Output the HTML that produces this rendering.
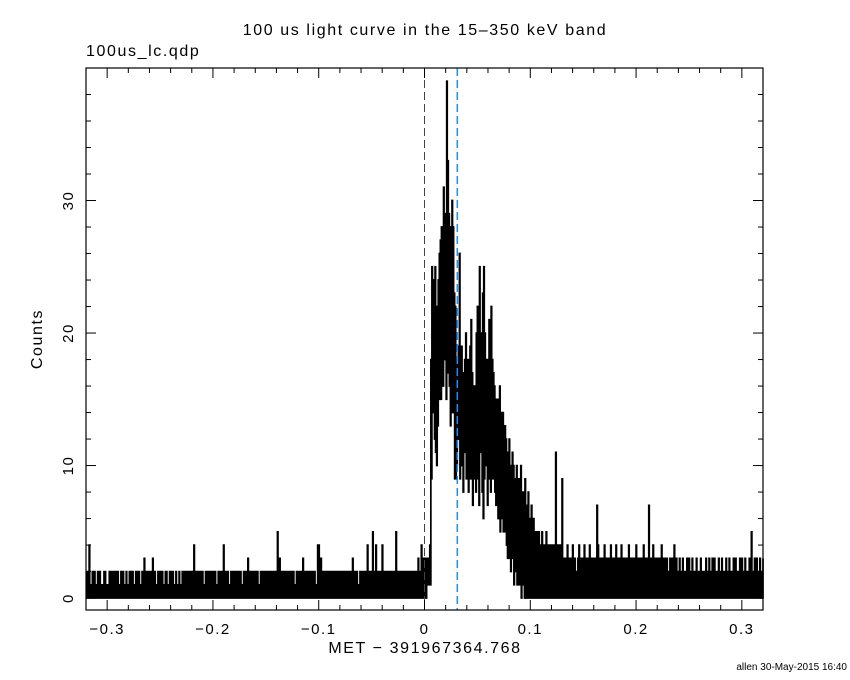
<!DOCTYPE html>
<html><head><meta charset="utf-8"><style>
body{margin:0;background:#fff;}
svg{display:block;font-family:"Liberation Sans",sans-serif;}
</style></head><body>
<svg id="c" width="850" height="680"></svg>
<script>
// ---- data (1 ms bins, t from -0.320) ----
const xTicks = [-0.3,-0.2,-0.1,0,0.1,0.2,0.3];
const xTickLabels = ["\u22120.3","\u22120.2","\u22120.1","0","0.1","0.2","0.3"];
const yTicks = [0,10,20,30];
const yTickLabels = ["0","10","20","30"];
const preHi = "1214112121121211122111212212122112121121122121121221121312121213121121212112211212211211211212121212214121212121121212121221121221412121121221212121121213121221212112212121221212121513122121212221211221212312212121212114413212122122121212121212122121213121211212121242121512421221412121212121251212122121212121212132 24".replace(/ /g,"");
const burstHi = [2,3,2,3,2,3,3,4, 18,25,24,23,25,22,21,24, 26,27,28,27,31,28,29,39,33, 29,28,26,30,28, 23,22,18,17, 19,26,18,19,17,15,18,20,16,18,17,19,21,17,16,15, 16,20,22,19,25,20,18,23,25,20,17,18,16,21,20,22,18,17, 16,15,14,15,13,16,14,12,14,13, 13,12,10,11,12,9,10,11,10,8,9,10,9, 9,8,10,7,8,6,9,7,6,8,5,6,7,5,6, 5,4,5,4,5,4,3,5,4,3,4,5,3,4,3,4,4,3,4,3,11,4,3,4,3,4,9,3];
const burstLo = [0,0,1,0,1,1,1,1, 9,15,14,12,11,10,13,15, 17,15,19,16,18,20,15,19,17, 16,13,19,14,15, 9,9,10,12, 12,9,11,10,8,11,12,9,10,8,11,9,10,7,9,11, 8,10,9,7,11,12,8,6,9,10,12,7,9,10,8,11,9,10, 8,7,9,6,8,5,7,6,5,6, 5,4,3,4,3,2,3,4,1,2,3,1,2, 1,2,0,1,1,0,1,0,1,0,1,0,0,1,0, 0,1,0,1,0,0,1,0,1,0,0,1,0,0,1,0,0,1,0,0,0,1,0,0,1,0,0,1];
const postHi = "3234232342322343232423324232323742323243232342332432324323232432323243232324232372324232323242332322323242322322322232322322232223222232232232322232232223223222323222323223222325223232232232223222322";
const tStart = -0.32, binW = 0.001;

// ---- axes ----
const X0=86,X1=763,Y0=68,Y1=610, xmin=-0.32,xmax=0.32, ymin=-0.9,ymax=40;
const sx=v=>X0+(v-xmin)/(xmax-xmin)*(X1-X0);
const sy=v=>Y1-(v-ymin)/(ymax-ymin)*(Y1-Y0);
const svg=document.getElementById('c');
const NS="http://www.w3.org/2000/svg";
function mk(t,a,txt){const e=document.createElementNS(NS,t);for(const k in a)e.setAttribute(k,a[k]);if(txt!==undefined)e.textContent=txt;svg.appendChild(e);return e;}

// series
let hi=[],lo=[];
for(const ch of preHi){hi.push(+ch);lo.push(0);}
for(let i=0;i<burstHi.length;i++){hi.push(burstHi[i]);lo.push(burstLo[i]);}
for(const ch of postHi){hi.push(+ch);lo.push(0);}
let pts=[];
for(let i=0;i<hi.length;i++){
  const t=tStart+i*binW;
  const xa=sx(t),xm=sx(t+binW/2),xb=sx(t+binW);
  if(xa>X1)break;
  pts.push(xa.toFixed(2)+","+sy(hi[i]).toFixed(2));
  pts.push(Math.min(xm,X1).toFixed(2)+","+sy(hi[i]).toFixed(2));
  pts.push(Math.min(xm,X1).toFixed(2)+","+sy(lo[i]).toFixed(2));
  pts.push(Math.min(xb,X1).toFixed(2)+","+sy(lo[i]).toFixed(2));
}
const line=mk('polyline',{points:pts.join(" "),fill:"none",stroke:"#000","stroke-width":1.7});



// dashed markers
const m1=mk('line',{x1:sx(0),x2:sx(0),y1:Y0,y2:Y1,stroke:"#444","stroke-width":1,"stroke-dasharray":"8,4"});


const m2=mk('line',{x1:sx(0.031),x2:sx(0.031),y1:Y0,y2:Y1,stroke:"#1e8cff","stroke-width":1.5,"stroke-dasharray":"8,4"});



// frame
const fr=mk('rect',{x:X0,y:Y0,width:X1-X0,height:Y1-Y0,fill:"none",stroke:"#000","stroke-width":1.2});



// x ticks
for(let k=-16;k<=16;k++){
  const v=k*0.02,x=sx(v),L=(k%5===0)?10:5;
  mk('line',{x1:x,x2:x,y1:Y1,y2:Y1-L,stroke:"#000"});
  mk('line',{x1:x,x2:x,y1:Y0,y2:Y0+L,stroke:"#000"});
}
xTicks.forEach((v,i)=>{
  const t=mk('text',{x:sx(v),y:634,"text-anchor":"middle","font-size":15,"letter-spacing":1.5},xTickLabels[i]);
  
  
});
// y ticks
for(let v=0;v<=38;v+=2){
  const y=sy(v),L=(v%10===0)?10:5;
  mk('line',{x1:X0,x2:X0+L,y1:y,y2:y,stroke:"#000"});
  mk('line',{x1:X1,x2:X1-L,y1:y,y2:y,stroke:"#000"});
}
yTicks.forEach((v,i)=>{
  const t=mk('text',{x:73,y:sy(v),"text-anchor":"middle","font-size":15,"letter-spacing":1.5,transform:`rotate(-90 73 ${sy(v)})`},yTickLabels[i]);
  
  
});
</script>
<div style="position:absolute;left:0;top:0;width:850px;height:680px;pointer-events:none;font-family:'Liberation Sans',sans-serif;letter-spacing:1.6px;">
  <div style="position:absolute;left:0;width:850px;top:22px;text-align:center;font-size:16px;">100 us light curve in the 15&#8211;350 keV band</div>
  <div style="position:absolute;left:86px;top:43px;font-size:16px;">100us_lc.qdp</div>
  <div style="position:absolute;left:0;width:850px;top:640px;text-align:center;font-size:16px;">MET &#8722; 391967364.768</div>
  <div style="position:absolute;left:0px;top:330px;width:76px;text-align:center;font-size:16px;transform:rotate(-90deg);">Counts</div>
  <div style="position:absolute;right:3px;top:662px;font-size:10px;letter-spacing:0;">allen 30-May-2015 16:40</div>
</div>
</body></html>
